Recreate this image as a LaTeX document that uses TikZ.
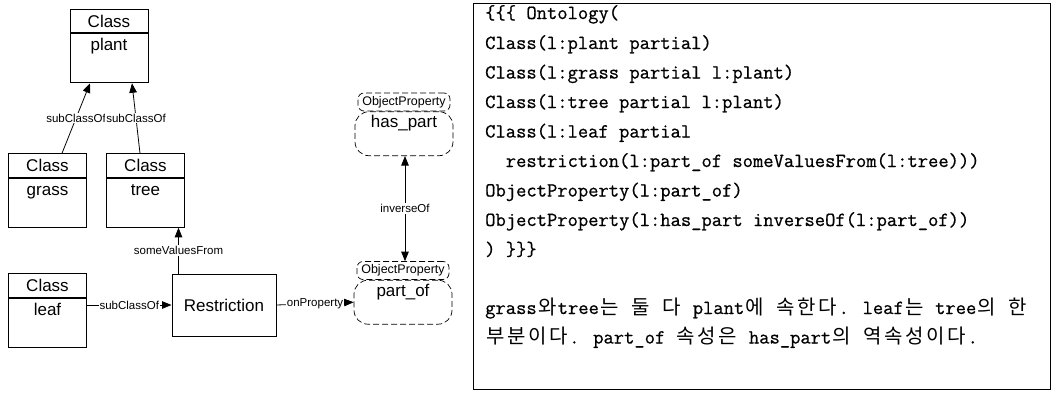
\documentclass[tikz,border=0pt]{standalone}
\usepackage{fontspec}
\setmainfont{Liberation Sans}
\newfontfamily\codefont{Latin Modern Mono}[FakeBold=0.7]
\newfontfamily\cjk{Noto Sans CJK KR}
\usetikzlibrary{arrows.meta,calc,positioning}

% Korean syllables set in double-width cells of the code font
\makeatletter
\newcommand\kr[1]{\kr@loop#1\relax}
\def\kr@loop#1{\ifx#1\relax\else\makebox[1.05em][c]{\cjk#1}\expandafter\kr@loop\fi}
\makeatother

\begin{document}
\begin{tikzpicture}[x=1pt,y=-1pt,
  classhead/.style={draw, line width=1pt, minimum width=78pt, minimum height=23.5pt,
    inner sep=0pt, font=\fontsize{17}{17}\selectfont},
  classbody/.style={draw, line width=1pt, minimum width=78pt, inner xsep=0pt,
    inner ysep=3pt, text height=14pt, text depth=29pt, font=\fontsize{17}{17}\selectfont},
  ophead/.style={draw, dash pattern=on 6pt off 3pt, line width=0.7pt,
    rounded corners=6pt, minimum width=92pt, minimum height=18pt, inner sep=0pt,
    font=\fontsize{12.5}{13}\selectfont},
  opbody/.style={draw, dash pattern=on 6pt off 3pt, line width=0.7pt,
    rounded corners=14pt, minimum width=98pt, inner xsep=0pt, inner ysep=3pt,
    text height=13pt, text depth=25pt, font=\fontsize{17}{17}\selectfont},
  lbl/.style={fill=white, inner sep=1pt, font=\fontsize{11.5}{12}\selectfont},
  tip/.tip={Triangle[length=9.5pt,width=7.5pt]},
  arr/.style={line width=0.8pt, -tip},
  codeline/.style={anchor=base west, inner sep=0pt, font=\codefont\fontsize{20}{20}\selectfont}
]
\useasboundingbox (0,0) rectangle (1060,394);

% ---- class boxes ----
\node[classhead] (planth) at (109,21) {Class};
\node[classbody, below=0pt of planth.south, anchor=north] (plant) {plant};
\node[classhead] (grassh) at (47.5,165.5) {Class};
\node[classbody, below=0pt of grassh.south, anchor=north] (grass) {grass};
\node[classhead] (treeh) at (145.5,165.5) {Class};
\node[classbody, below=0pt of treeh.south, anchor=north] (tree) {tree};
\node[classhead] (leafh) at (47.5,285.5) {Class};
\node[classbody, below=0pt of leafh.south, anchor=north] (leaf) {leaf};

\node[draw, line width=1pt, minimum width=104pt, minimum height=62pt,
  font=\fontsize{17}{17}\selectfont] (restr) at (224,305) {Restriction};

% ---- object properties ----
\node[ophead] (haspht) at (404,102) {ObjectProperty};
\node[opbody, below=0pt of haspht.south, anchor=north] (haspart) {has\_part};
\node[ophead] (partofh) at (403,270.5) {ObjectProperty};
\node[opbody, below=0pt of partofh.south, anchor=north] (partof) {part\_of};

% ---- connectors ----
\draw[arr] ([xshift=14.5pt]grassh.north) -- ([xshift=-19pt]plant.south)
  node[midway, lbl] {subClassOf};
\draw[arr] ([xshift=-5.5pt]treeh.north) -- ([xshift=23pt]plant.south)
  node[midway, lbl] {subClassOf};
\draw[arr] (leaf.east |- restr.west) -- (restr.west)
  node[midway, lbl] {subClassOf};
\draw[arr] ([xshift=7pt]restr.north west) -- ([xshift=7pt]restr.north west |- tree.south)
  node[midway, lbl] {someValuesFrom};
\draw[arr] (restr.east) -- (partof.west)
  node[midway, lbl] {onProperty};
\draw[line width=0.8pt, tip-tip]
  ([xshift=1pt]haspart.south) -- ([xshift=2pt]partofh.north)
  node[midway, lbl] {inverseOf};

% ---- ontology listing ----
\node[draw, line width=1.2pt, minimum width=577pt, minimum height=386pt,
  anchor=north west, inner sep=0pt] (codebox) at (473,3) {};
\node[codeline] (c1) at (485,19) {\{\{\{ Ontology(};
\node[codeline] (c2) at (485,49) {Class(l:plant partial)};
\node[codeline] (c3) at (485,78.5) {Class(l:grass partial l:plant)};
\node[codeline] (c4) at (485,108) {Class(l:tree partial l:plant)};
\node[codeline] (c5) at (485,137.5) {Class(l:leaf partial};
\node[codeline] (c6) at (485,167) {\ \ restriction(l:part\_of someValuesFrom(l:tree)))};
\node[codeline] (c7) at (485,196.5) {ObjectProperty(l:part\_of)};
\node[codeline] (c8) at (485,226) {ObjectProperty(l:has\_part inverseOf(l:part\_of))};
\node[codeline] (c9) at (485,255.5) {) \}\}\}};
\node[codeline] (c10) at (485,314) {grass\kr{와}tree\kr{는} \kr{둘} \kr{다} plant\kr{에} \kr{속한다}. leaf\kr{는} tree\kr{의} \kr{한}};
\node[codeline] (c11) at (485,343.5) {\kr{부분이다}. part\_of \kr{속성은} has\_part\kr{의} \kr{역속성이다}.};
\end{tikzpicture}
\end{document}
